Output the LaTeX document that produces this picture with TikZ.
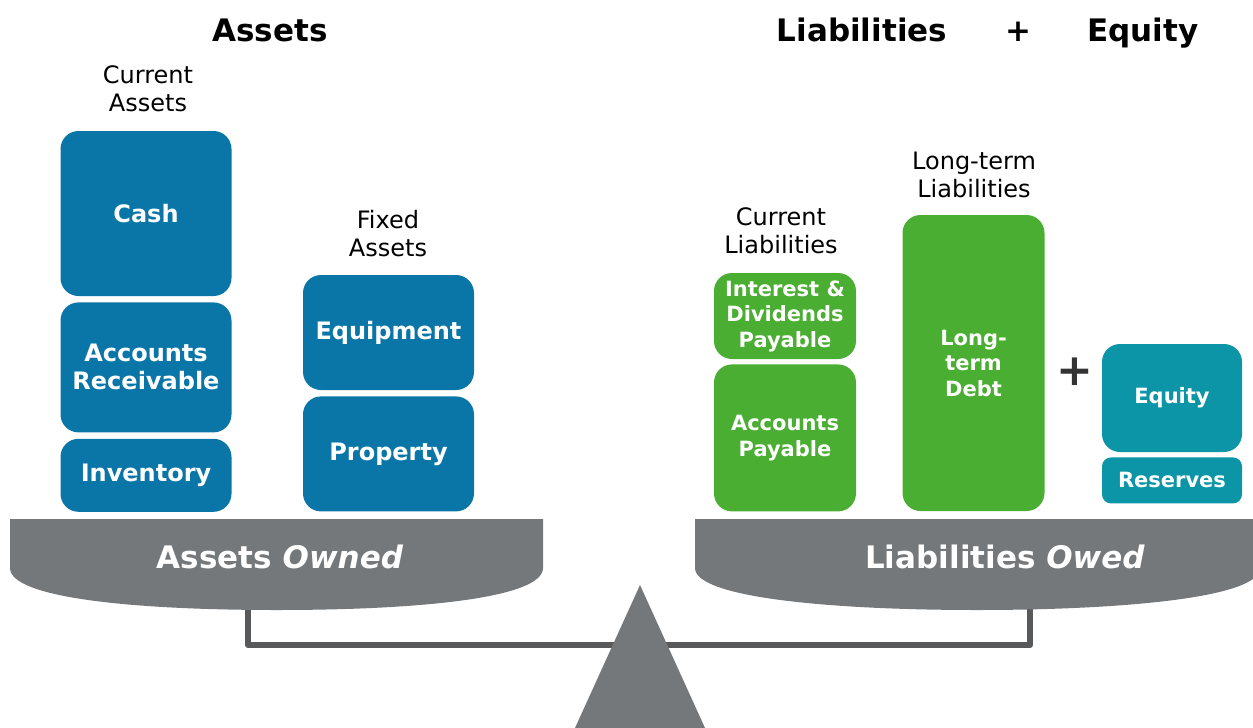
\documentclass[tikz,border=0pt]{standalone}
\usepackage{fontspec}
\setmainfont{DejaVu Sans}
\usepackage{tikz}
\usetikzlibrary{positioning}

\definecolor{assetblue}{HTML}{0A76A8}
\definecolor{debtgreen}{HTML}{4AAE32}
\definecolor{equityteal}{HTML}{0B95A6}
\definecolor{pangray}{HTML}{75787B}
\definecolor{beamgray}{HTML}{58595B}
\definecolor{plusgray}{HTML}{333333}

\tikzset{
  item/.style={rounded corners=18pt, text=white, align=center, inner sep=0pt,
    font=\bfseries\fontsize{24}{28}\selectfont},
  asset/.style={item, fill=assetblue, minimum width=171pt},
  debt/.style={item, fill=debtgreen, minimum width=142pt,
    font=\bfseries\fontsize{21}{25.5}\selectfont},
  equitybox/.style={item, fill=equityteal, minimum width=140pt,
    font=\bfseries\fontsize{21}{25.5}\selectfont},
  group/.style={align=center, font=\fontsize{24}{28}\selectfont},
  heading/.style={anchor=base, font=\bfseries\fontsize{31}{36}\selectfont},
  panlabel/.style={text=white, font=\bfseries\fontsize{31}{36}\selectfont},
  beam/.style={draw=beamgray, line width=6pt, line join=round}
}

\begin{document}
\begin{tikzpicture}[x=1pt, y=-1pt]
    \useasboundingbox (0,0) rectangle (1253,728);

    % headings
    \node[heading] (assetstitle) at (270,41) {Assets};
    \node[heading] (liabtitle) at (862,41) {Liabilities};
    \node[heading] (plustitle) at (1018,41) {+};
    \node[heading] (equitytitle) at (1143,41) {Equity};

    % assets side
    \node[group] (currentassets) at (148,89) {Current\\Assets};
    \node[asset, minimum height=165pt] (cash) at (146,213.5) {Cash};
    \node[asset, minimum height=130pt, below=6pt of cash] (receivable) {Accounts\\Receivable};
    \node[asset, minimum height=73pt, below=6pt of receivable] (inventory) {Inventory};

    \node[group] (fixedassets) at (388,234) {Fixed\\Assets};
    \node[asset, minimum height=115pt] (equipment) at (388.5,332.5) {Equipment};
    \node[asset, minimum height=115pt, below=6pt of equipment] (property) {Property};

    % liabilities + equity side
    \node[group] (currentliab) at (781,231) {Current\\Liabilities};
    \node[debt, minimum height=86pt] (interest) at (785,316) {Interest \&\\Dividends\\Payable};
    \node[debt, minimum height=147pt, below=5pt of interest] (payable) {Accounts\\Payable};

    \node[group] (longliab) at (974,175) {Long-term\\Liabilities};
    \node[debt, minimum height=296pt] (longdebt) at (973.5,363) {Long-\\term\\Debt};

    \node[text=plusgray, font=\bfseries\fontsize{44}{44}\selectfont] (plus) at (1075,372) {+};
    \node[equitybox, minimum height=108pt] (equity) at (1172,398) {Equity};
    \node[equitybox, rounded corners=9pt, minimum height=46pt, below=5pt of equity] (reserves) {Reserves};

    % scale
    \coordinate (lefthang) at (248,600);
    \coordinate (righthang) at (1030,600);
    \draw[beam] (lefthang) -- ++(0,45) -| (righthang);

    \fill[pangray] (10,519) -- (543,519) -- (543,568)
        .. controls (543,598) and (420,610) .. (277,610)
        .. controls (134,610) and (10,598) .. (10,568) -- cycle;
    \fill[pangray] (695,519) -- (1260,519) -- (1260,568)
        .. controls (1260,598) and (1120,610) .. (977,610)
        .. controls (834,610) and (695,598) .. (695,568) -- cycle;
    \fill[pangray] (640,585) -- (705,728) -- (575,728) -- cycle;

    \node[panlabel] (owned) at (280,557) {Assets \textit{Owned}};
    \node[panlabel] (owed) at (1005,557) {Liabilities \textit{Owed}};
\end{tikzpicture}
\end{document}
